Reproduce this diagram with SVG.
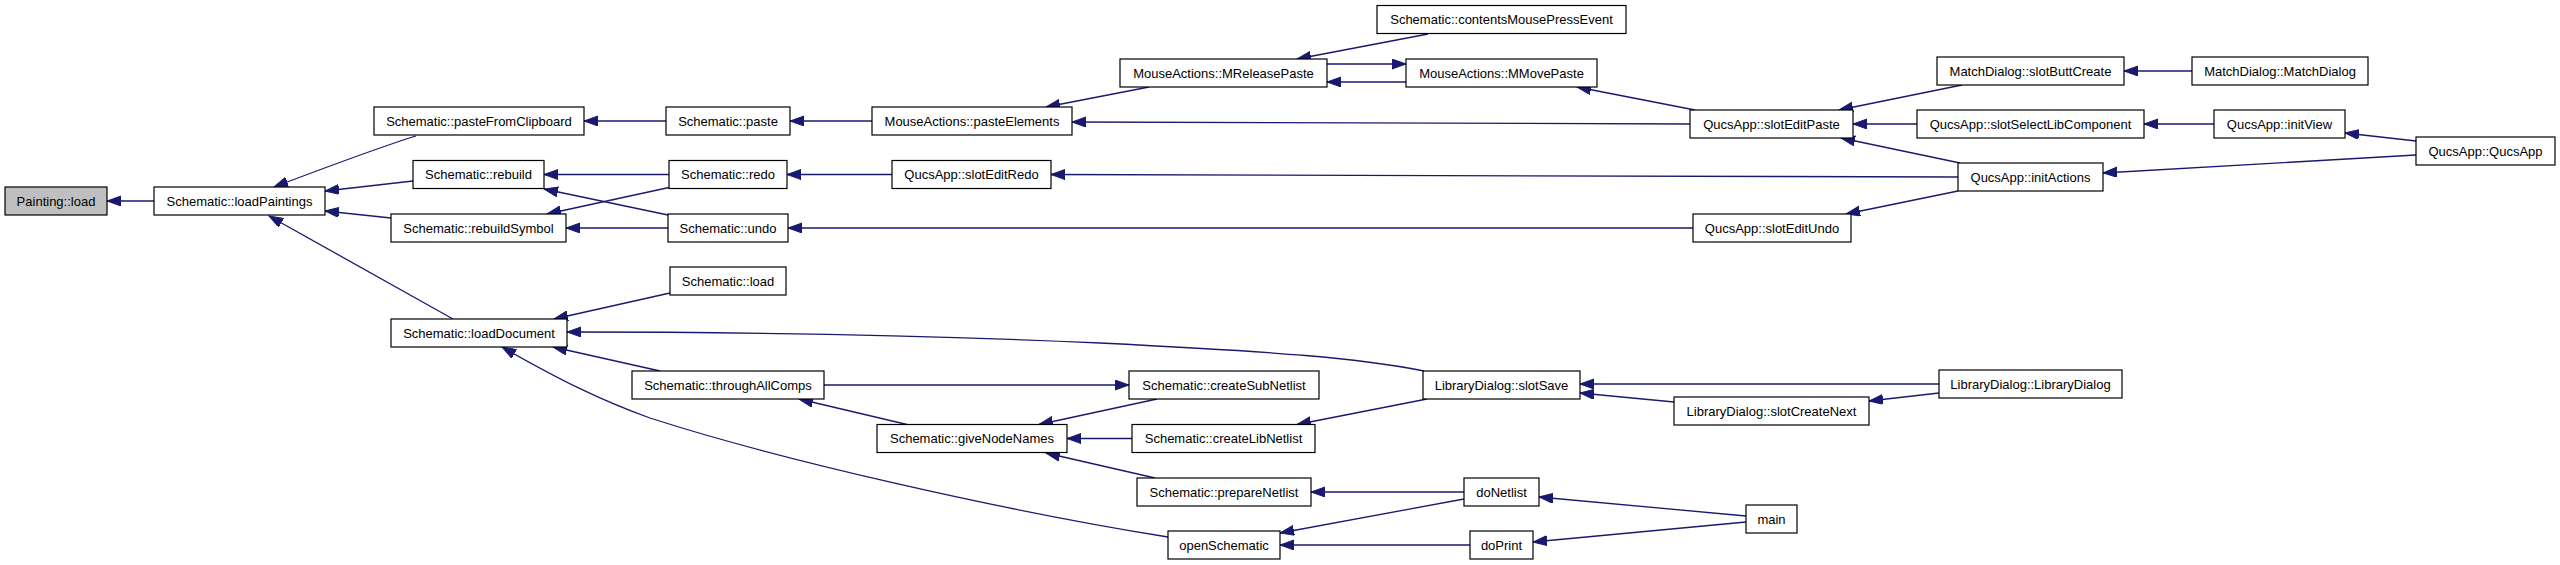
<svg xmlns="http://www.w3.org/2000/svg" width="2560" height="565" viewBox="0 0 2560 565">
<style>
rect{fill:#fff;stroke:#000;stroke-width:1.2}
rect.hl{fill:#bfbfbf}
text{font-family:"Liberation Sans",Arial,sans-serif;font-size:13px;text-anchor:middle;fill:#000}
#edges path{fill:none;stroke:#191970;stroke-width:1.3;marker-end:url(#a)}
</style>
<defs>
<marker id="a" markerUnits="userSpaceOnUse" markerWidth="16" markerHeight="12" refX="14" refY="5" orient="auto" viewBox="0 0 16 12"><path d="M0,0 L14,5 L0,10 z" fill="#191970" stroke="#191970" stroke-width="1"/></marker>
</defs>
<rect x="0" y="0" width="2560" height="565" style="fill:#fff;stroke:none"/>
<g id="edges">
<path d="M154,201 L107,201"/>
<path d="M416,136 C380,147 340,162 274,187"/>
<path d="M413,181 L325,191"/>
<path d="M391,218 L325,211"/>
<path d="M453,319 L269,216"/>
<path d="M666,121 L584,121"/>
<path d="M872,121 L790,121"/>
<path d="M1149,87 L1046,107"/>
<path d="M1690,124 L1072,122"/>
<path d="M1428,34 L1297,59"/>
<path d="M1327,64 L1406,64"/>
<path d="M1406,82 L1327,82"/>
<path d="M1695,110 L1577,87"/>
<path d="M1962,85 L1839,110"/>
<path d="M1917,124 L1853,124"/>
<path d="M1960,163 L1841,138"/>
<path d="M2192,71 L2124,71"/>
<path d="M2214,124 L2144,124"/>
<path d="M2416,141 L2345,133"/>
<path d="M2416,155 L2103,173"/>
<path d="M1958,177 L1051,174.5"/>
<path d="M1958,191 L1846,214"/>
<path d="M892,174.5 L787,174.5"/>
<path d="M669,174.5 L544,174.5"/>
<path d="M668,215 L544,189"/>
<path d="M669,187.5 L547,214"/>
<path d="M668,228 L566,228"/>
<path d="M1693,228 L788,228"/>
<path d="M670,293 L554,319"/>
<path d="M1424,371 C1360,358 1280,352 1100,343 C900,334 700,332 567,332"/>
<path d="M660,371 L553,347"/>
<path d="M1168,537 C1000,510 780,460 650,418 C600,400 560,380 502,347"/>
<path d="M824,385 L1129,385"/>
<path d="M907,424.5 L799,399"/>
<path d="M1157,399 L1039,424.5"/>
<path d="M1132,438.5 L1067,438.5"/>
<path d="M1155,478 L1046,453"/>
<path d="M1427,399 L1297,424.5"/>
<path d="M1939,384 L1580,384"/>
<path d="M1674,402 L1580,393"/>
<path d="M1939,393 L1869,401"/>
<path d="M1464,492 L1311,492"/>
<path d="M1464,499 L1280,533"/>
<path d="M1470,545 L1280,545"/>
<path d="M1746,516 L1539,497"/>
<path d="M1746,522 L1533,542"/>
</g>
<g id="n1"><rect class="hl" x="5" y="187" width="102" height="28"/><text x="56" y="205.5">Painting::load</text></g>
<g id="n2"><rect x="154" y="187" width="171" height="28"/><text x="239.5" y="205.5">Schematic::loadPaintings</text></g>
<g id="n3"><rect x="374" y="107" width="210" height="28"/><text x="479" y="125.5">Schematic::pasteFromClipboard</text></g>
<g id="n4"><rect x="413" y="160.5" width="131" height="28"/><text x="478.5" y="179">Schematic::rebuild</text></g>
<g id="n5"><rect x="391" y="214" width="175" height="28"/><text x="478.5" y="232.5">Schematic::rebuildSymbol</text></g>
<g id="n6"><rect x="391" y="319" width="176" height="28"/><text x="479" y="337.5">Schematic::loadDocument</text></g>
<g id="n7"><rect x="666" y="107" width="124" height="28"/><text x="728" y="125.5">Schematic::paste</text></g>
<g id="n8"><rect x="669" y="160.5" width="118" height="28"/><text x="728" y="179">Schematic::redo</text></g>
<g id="n9"><rect x="668" y="214" width="120" height="28"/><text x="728" y="232.5">Schematic::undo</text></g>
<g id="n10"><rect x="670" y="267" width="116" height="28"/><text x="728" y="285.5">Schematic::load</text></g>
<g id="n11"><rect x="632" y="371" width="192" height="28"/><text x="728" y="389.5">Schematic::throughAllComps</text></g>
<g id="n12"><rect x="872" y="107" width="200" height="28"/><text x="972" y="125.5">MouseActions::pasteElements</text></g>
<g id="n13"><rect x="892" y="160.5" width="159" height="28"/><text x="971.5" y="179">QucsApp::slotEditRedo</text></g>
<g id="n14"><rect x="877" y="424.5" width="190" height="28"/><text x="972" y="443">Schematic::giveNodeNames</text></g>
<g id="n15"><rect x="1120" y="59" width="207" height="28"/><text x="1223.5" y="77.5">MouseActions::MReleasePaste</text></g>
<g id="n16"><rect x="1129" y="371" width="190" height="28"/><text x="1224" y="389.5">Schematic::createSubNetlist</text></g>
<g id="n17"><rect x="1132" y="424.5" width="183" height="28"/><text x="1223.5" y="443">Schematic::createLibNetlist</text></g>
<g id="n18"><rect x="1137" y="478" width="174" height="28"/><text x="1224" y="496.5">Schematic::prepareNetlist</text></g>
<g id="n19"><rect x="1168" y="531" width="112" height="28"/><text x="1224" y="549.5">openSchematic</text></g>
<g id="n20"><rect x="1377" y="5.5" width="249" height="28"/><text x="1501.5" y="24">Schematic::contentsMousePressEvent</text></g>
<g id="n21"><rect x="1406" y="59" width="191" height="28"/><text x="1501.5" y="77.5">MouseActions::MMovePaste</text></g>
<g id="n22"><rect x="1423" y="371" width="157" height="28"/><text x="1501.5" y="389.5">LibraryDialog::slotSave</text></g>
<g id="n23"><rect x="1464" y="478" width="75" height="28"/><text x="1501.5" y="496.5">doNetlist</text></g>
<g id="n24"><rect x="1470" y="531" width="63" height="28"/><text x="1501.5" y="549.5">doPrint</text></g>
<g id="n25"><rect x="1690" y="110" width="163" height="28"/><text x="1771.5" y="128.5">QucsApp::slotEditPaste</text></g>
<g id="n26"><rect x="1693" y="214" width="158" height="28"/><text x="1772" y="232.5">QucsApp::slotEditUndo</text></g>
<g id="n27"><rect x="1674" y="397" width="195" height="28"/><text x="1771.5" y="415.5">LibraryDialog::slotCreateNext</text></g>
<g id="n28"><rect x="1746" y="505" width="51" height="28"/><text x="1771.5" y="523.5">main</text></g>
<g id="n29"><rect x="1937" y="57" width="187" height="28"/><text x="2030.5" y="75.5">MatchDialog::slotButtCreate</text></g>
<g id="n30"><rect x="1917" y="110" width="227" height="28"/><text x="2030.5" y="128.5">QucsApp::slotSelectLibComponent</text></g>
<g id="n31"><rect x="1958" y="163" width="145" height="28"/><text x="2030.5" y="181.5">QucsApp::initActions</text></g>
<g id="n32"><rect x="1939" y="370" width="183" height="28"/><text x="2030.5" y="388.5">LibraryDialog::LibraryDialog</text></g>
<g id="n33"><rect x="2192" y="57" width="176" height="28"/><text x="2280" y="75.5">MatchDialog::MatchDialog</text></g>
<g id="n34"><rect x="2214" y="110" width="131" height="28"/><text x="2279.5" y="128.5">QucsApp::initView</text></g>
<g id="n35"><rect x="2416" y="137" width="139" height="28"/><text x="2485.5" y="155.5">QucsApp::QucsApp</text></g>
</svg>
